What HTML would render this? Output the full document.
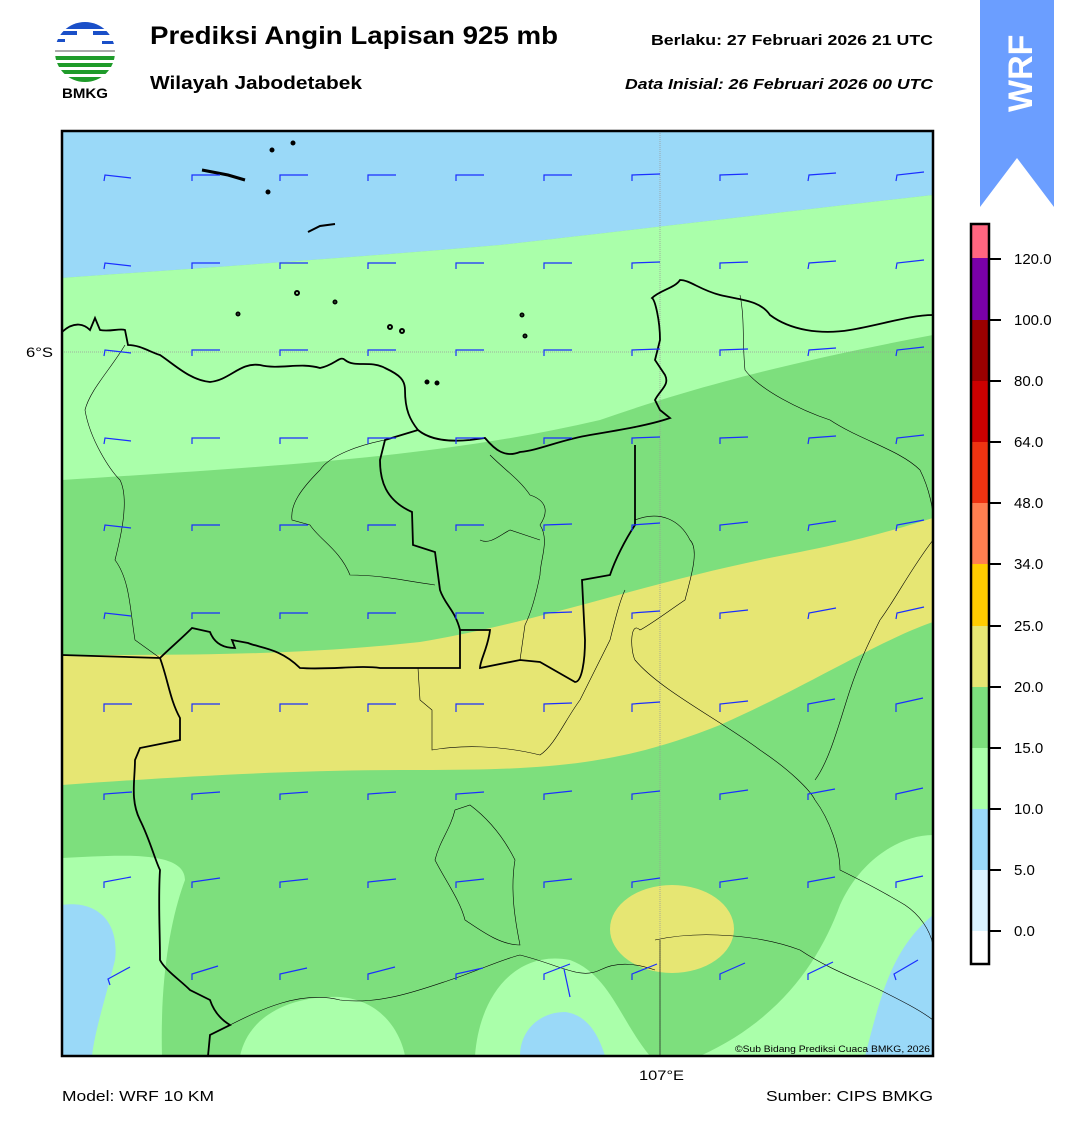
<!DOCTYPE html>
<html><head><meta charset="utf-8"><style>
body{margin:0;background:#fff;width:1081px;height:1128px;overflow:hidden;font-family:"Liberation Sans",Arial,sans-serif}
</style></head><body>
<svg width="1081" height="1128" xmlns="http://www.w3.org/2000/svg" font-family="Liberation Sans, Arial, sans-serif">
<g>
<clipPath id="lc"><circle cx="85" cy="52" r="30"/></clipPath>
<g clip-path="url(#lc)">
<rect x="55" y="22" width="60" height="28" fill="#fff"/>
<rect x="55" y="22" width="60" height="7" fill="#1a4fc8"/>
<rect x="55" y="31" width="22" height="4" fill="#1a4fc8"/>
<rect x="93" y="31" width="22" height="4" fill="#1a4fc8"/>
<rect x="55" y="39" width="10" height="3" fill="#1a4fc8"/>
<rect x="102" y="41" width="13" height="3" fill="#1a4fc8"/>
<rect x="55" y="50" width="60" height="2" fill="#aaa"/>
<rect x="55" y="56" width="60" height="4" fill="#1f9b2a"/>
<rect x="55" y="63" width="60" height="4" fill="#1f9b2a"/>
<rect x="55" y="70" width="60" height="4" fill="#1f9b2a"/>
<rect x="55" y="77" width="60" height="5" fill="#1f9b2a"/>
</g>
<text x="62" y="98" font-size="14" font-weight="bold" textLength="46" lengthAdjust="spacingAndGlyphs">BMKG</text>
</g>
<text x="150" y="44" font-size="25" font-weight="bold" textLength="408" lengthAdjust="spacingAndGlyphs">Prediksi Angin Lapisan 925 mb</text>
<text x="150" y="89" font-size="18" font-weight="bold" textLength="212" lengthAdjust="spacingAndGlyphs">Wilayah Jabodetabek</text>
<text x="651" y="45" font-size="15" font-weight="bold" textLength="282" lengthAdjust="spacingAndGlyphs">Berlaku:  27 Februari 2026 21 UTC</text>
<text x="625" y="89" font-size="15" font-weight="bold" font-style="italic" textLength="308" lengthAdjust="spacingAndGlyphs">Data Inisial:  26 Februari 2026 00 UTC</text>
<path d="M980 0 H1054 V207 L1017 158 L980 207 Z" fill="#6b9eff"/>
<text transform="translate(1032,112) rotate(-90)" font-size="34" font-weight="bold" fill="#fff">WRF</text>

<clipPath id="mc"><rect x="62" y="131" width="871" height="925"/></clipPath>
<g clip-path="url(#mc)">
<rect x="62" y="131" width="871" height="925" fill="#7ddf7d"/>
<path d="M62 131 H933 V195 C800 210 650 228 500 245 C350 258 200 268 62 278 Z" fill="#9ad9f8"/>
<path d="M62 278 C200 268 350 258 500 245 C650 228 800 210 933 195 V335 C800 360 700 385 600 420 C450 455 300 465 62 480 Z" fill="#aaffaa"/>
<path d="M62 655 C200 655 300 655 420 642 C550 620 650 580 800 552 C870 538 910 525 933 518 V622 C880 640 800 690 720 725 C620 765 550 770 420 770 C300 770 200 775 62 785 Z" fill="#e6e673"/>
<path d="M62 858 C120 855 185 850 185 880 C170 920 160 980 162 1056 H62 Z" fill="#aaffaa"/>
<path d="M62 905 C95 900 120 920 115 960 C105 1000 95 1030 92 1056 H62 Z" fill="#9ad9f8"/>
<path d="M240 1056 C250 1010 300 995 340 997 C380 1000 400 1030 405 1056 Z" fill="#aaffaa"/>
<path d="M475 1056 C480 990 520 950 570 960 C610 975 620 1020 650 1056 Z" fill="#aaffaa"/>
<path d="M520 1056 C520 1030 540 1012 565 1012 C590 1015 600 1040 605 1056 Z" fill="#9ad9f8"/>
<path d="M700 1056 C780 1020 820 960 840 905 C860 860 900 835 933 835 V1056 Z" fill="#aaffaa"/>
<path d="M865 1056 C880 1000 890 950 933 915 V1056 Z" fill="#9ad9f8"/>
<ellipse cx="672" cy="929" rx="62" ry="44" fill="#e6e673"/>
<line x1="660" y1="131" x2="660" y2="1056" stroke="#999" stroke-width="0.8" stroke-dasharray="1,1"/>
<line x1="62" y1="352" x2="933" y2="352" stroke="#999" stroke-width="0.8" stroke-dasharray="1,1"/>
<g fill="none" stroke="#000" stroke-width="1.8">
<path d="M62 332 C75 320 85 325 90 330 L95 318 L100 330 C110 332 120 328 125 330 L128 345 C140 345 150 352 160 355 C175 365 190 380 210 382 C230 380 240 362 260 365 C280 370 300 362 320 368 C335 365 340 355 345 360 C355 368 370 360 385 368 C400 375 405 380 405 390 C405 410 410 420 418 430 C430 440 450 442 470 440 L485 438 C495 450 505 458 520 452 C540 450 560 440 590 435 C620 430 650 425 670 418 L660 410 L655 400 C660 390 670 385 665 375 L655 360 L660 340 C660 320 655 300 652 298 C660 290 675 288 680 280 C690 280 700 290 720 295 C740 300 760 300 770 315 C790 330 820 335 850 330 C880 325 910 315 933 315"/>
<path d="M418 430 L385 440 L380 460 C380 480 385 500 412 512 L413 545 L435 552 L440 590 C445 605 455 610 460 630 L490 630 C488 648 480 660 480 668 L520 660 L540 662 L575 682 C582 682 585 660 585 640 L582 580 L610 575 C615 560 625 540 635 525 L635 445"/>
<path d="M62 655 L160 658 C170 648 180 640 192 628 L210 632 C215 645 225 648 235 648 L232 640 L248 643 C260 648 280 648 300 668 C330 670 360 665 380 668 L460 668 L460 630"/>
<path d="M160 658 C168 680 170 700 180 718 L180 740 L140 748 L135 760 C135 780 130 800 140 820 C150 840 155 860 160 870 C158 900 160 930 160 960 C165 970 180 980 190 990 L210 1000 C215 1015 225 1022 230 1025 L210 1035 L208 1056"/>
</g>
<g fill="#000" stroke="#000" stroke-width="2">
<path d="M202 170 L228 175 L245 180" fill="none" stroke-width="3"/>
<circle cx="272" cy="150" r="1.5"/><circle cx="293" cy="143" r="1.5"/><circle cx="268" cy="192" r="1.5"/>
<path d="M308 232 L320 226 L335 224" fill="none"/>
<circle cx="297" cy="293" r="2" fill="none"/><circle cx="335" cy="302" r="1.5" fill="none"/><circle cx="238" cy="314" r="1.5" fill="none"/>
<circle cx="390" cy="327" r="2" fill="none"/><circle cx="402" cy="331" r="2" fill="none"/><circle cx="522" cy="315" r="1.5" fill="none"/><circle cx="525" cy="336" r="1.5" fill="none"/>
<circle cx="427" cy="382" r="1.5"/><circle cx="437" cy="383" r="1.5"/>
</g>
<g fill="none" stroke="#000" stroke-width="0.6">
<path d="M125 345 C110 370 90 390 85 410 C90 440 110 470 120 480 C130 500 120 540 115 560 C130 580 130 610 135 640 L160 658"/>
<path d="M385 440 C360 445 330 455 320 470 C300 490 290 505 292 520 L310 525 C320 540 340 550 350 575 C380 575 400 580 435 585"/>
<path d="M490 455 C505 470 520 480 530 495 C545 500 550 510 540 525 C550 540 540 560 540 575 C535 600 530 615 525 625 L520 660"/>
<path d="M480 540 C490 545 500 535 510 530 L540 540"/>
<path d="M418 668 L420 700 L432 710 L432 750 C460 745 500 745 540 755 C555 745 565 720 580 700 C590 680 600 660 610 640 C615 620 620 600 625 590"/>
<path d="M740 295 C745 320 742 340 745 370 C760 390 800 410 830 420 C860 440 900 450 920 470 C930 490 933 510 933 518"/>
<path d="M635 520 C660 510 680 520 690 540 C700 550 690 580 685 600 C670 610 650 625 640 630 C630 620 630 650 635 660 C660 690 720 720 760 750 C790 770 810 790 815 800 C830 820 840 850 840 870 C860 880 880 890 905 905 C920 915 930 930 933 945"/>
<path d="M815 780 C830 760 840 720 850 690 C860 660 870 640 880 620 C895 600 910 570 933 540"/>
<path d="M455 810 C450 830 440 840 435 860 C445 880 460 900 465 920 C480 930 500 945 520 945 C515 920 510 890 515 860 C505 840 490 820 470 805 Z"/>
<path d="M655 940 C700 930 760 935 800 950 C830 970 860 980 880 990 C900 1000 920 1010 933 1020"/>
<path d="M660 940 L660 1056"/>
<path d="M230 1025 C260 1010 300 990 340 1000 C380 1005 420 990 450 980 C480 970 500 960 520 955 C560 965 580 980 600 970 C620 960 640 965 655 970"/>
</g>
<g stroke="#1a2fff" stroke-width="1.2" fill="none">
<path d="M104 181 l1-6 l26 3 M192 181 l0-6 l28 0 M280 181 l0-6 l28 0 M368 181 l0-6 l28 0 M456 181 l0-6 l28 0 M544 181 l0-6 l28 0 M632 181 l0-6 l28-1 M720 181 l0-6 l28-1 M808 181 l1-6 l27-2 M896 181 l1-6 l27-3"/>
<path d="M104 269 l1-6 l26 3 M192 269 l0-6 l28 0 M280 269 l0-6 l28 0 M368 269 l0-6 l28 0 M456 269 l0-6 l28 0 M544 269 l0-6 l28 0 M632 269 l0-6 l28-1 M720 269 l0-6 l28-1 M808 269 l1-6 l27-2 M896 269 l1-6 l27-3"/>
<path d="M104 356 l1-6 l26 3 M192 356 l0-6 l28 0 M280 356 l0-6 l28 0 M368 356 l0-6 l28 0 M456 356 l0-6 l28 0 M544 356 l0-6 l28 0 M632 356 l0-6 l28-1 M720 356 l0-6 l28-1 M808 356 l1-6 l27-2 M896 356 l1-6 l27-3"/>
<path d="M104 444 l1-6 l26 3 M192 444 l0-6 l28 0 M280 444 l0-6 l28 0 M368 444 l0-6 l28 0 M456 444 l0-6 l28 0 M544 444 l0-6 l28 0 M632 444 l0-6 l28-1 M720 444 l0-6 l28-1 M808 444 l1-6 l27-2 M896 444 l1-6 l27-3"/>
<path d="M104 531 l1-6 l26 3 M192 531 l0-6 l28 0 M280 531 l0-6 l28 0 M368 531 l0-6 l28 0 M456 531 l0-6 l28 0 M544 531 l0-6 l28-1 M632 531 l0-6 l28-2 M720 531 l0-6 l28-3 M808 531 l1-6 l27-4 M896 531 l1-6 l27-5"/>
<path d="M104 619 l1-6 l26 3 M192 619 l0-6 l28 0 M280 619 l0-6 l28 0 M368 619 l0-6 l28 0 M456 619 l0-6 l28 0 M544 619 l0-6 l28-1 M632 619 l0-6 l28-2 M720 619 l0-6 l28-3 M808 619 l1-6 l27-5 M896 619 l1-6 l27-6"/>
<path d="M104 712 l0-8 l28 0 M192 712 l0-8 l28 0 M280 712 l0-8 l28 0 M368 712 l0-8 l28 0 M456 712 l0-8 l28 0 M544 712 l0-8 l28-1 M632 712 l0-8 l28-2 M720 712 l0-8 l28-3 M808 712 l0-8 l27-5 M896 712 l0-8 l27-6"/>
<path d="M104 800 l0-6 l28-2 M192 800 l0-6 l28-2 M280 800 l0-6 l28-2 M368 800 l0-6 l28-2 M456 800 l0-6 l28-2 M544 800 l0-6 l28-3 M632 800 l0-6 l28-3 M720 800 l0-6 l28-4 M808 800 l0-6 l27-5 M896 800 l0-6 l27-6"/>
<path d="M104 888 l0-6 l27-5 M192 888 l0-6 l28-4 M280 888 l0-6 l28-3 M368 888 l0-6 l28-3 M456 888 l0-6 l28-3 M544 888 l0-6 l28-3 M632 888 l0-6 l28-4 M720 888 l0-6 l28-4 M808 888 l0-6 l27-5 M896 888 l0-6 l27-6"/>
<path d="M110 985 l-2-6 l22-12 M192 980 l0-6 l26-8 M280 980 l0-6 l27-6 M368 980 l0-6 l27-7 M456 980 l0-6 l27-6 M544 980 l0-6 l26-10 M632 980 l0-6 l25-10 M720 980 l0-6 l25-11 M808 980 l0-6 l25-12 M896 980 l-2-6 l24-14"/>
<path d="M570 997 l-6-28" />
</g>
</g>
<rect x="62" y="131" width="871" height="925" fill="none" stroke="#000" stroke-width="2.5"/>
<text x="735" y="1052" font-size="9" textLength="195" lengthAdjust="spacingAndGlyphs">©Sub Bidang Prediksi Cuaca BMKG, 2026</text>
<text x="26" y="357" font-size="14" textLength="27" lengthAdjust="spacingAndGlyphs">6°S</text>
<text x="639" y="1080" font-size="14" textLength="45" lengthAdjust="spacingAndGlyphs">107°E</text>
<text x="62" y="1101" font-size="15" textLength="152" lengthAdjust="spacingAndGlyphs">Model: WRF 10 KM</text>
<text x="766" y="1101" font-size="15" textLength="167" lengthAdjust="spacingAndGlyphs">Sumber: CIPS BMKG</text>
<g>
<rect x="971" y="224" width="18" height="34" fill="#ff6680"/>
<rect x="971" y="258" width="18" height="62" fill="#7a00a8"/>
<rect x="971" y="320" width="18" height="61" fill="#990000"/>
<rect x="971" y="381" width="18" height="61" fill="#cc0000"/>
<rect x="971" y="442" width="18" height="61" fill="#ee3311"/>
<rect x="971" y="503" width="18" height="61" fill="#ff7f50"/>
<rect x="971" y="564" width="18" height="62" fill="#ffcc00"/>
<rect x="971" y="626" width="18" height="61" fill="#e6e673"/>
<rect x="971" y="687" width="18" height="61" fill="#7ddf7d"/>
<rect x="971" y="748" width="18" height="61" fill="#aaffaa"/>
<rect x="971" y="809" width="18" height="61" fill="#9ad9f8"/>
<rect x="971" y="870" width="18" height="61" fill="#daf3ff"/>
<rect x="971" y="931" width="18" height="33" fill="#fff"/>
<rect x="971" y="224" width="18" height="740" fill="none" stroke="#000" stroke-width="2.5"/>
<g stroke="#000" stroke-width="2">
<path d="M989 259h12M989 320h12M989 381h12M989 442h12M989 503h12M989 564h12M989 626h12M989 687h12M989 748h12M989 809h12M989 870h12M989 931h12"/>
</g>
<g font-size="15">
<text x="1014" y="264">120.0</text><text x="1014" y="325">100.0</text><text x="1014" y="386">80.0</text><text x="1014" y="447">64.0</text><text x="1014" y="508">48.0</text><text x="1014" y="569">34.0</text><text x="1014" y="631">25.0</text><text x="1014" y="692">20.0</text><text x="1014" y="753">15.0</text><text x="1014" y="814">10.0</text><text x="1014" y="875">5.0</text><text x="1014" y="936">0.0</text>
</g>
</g>
</svg>
</body></html>
